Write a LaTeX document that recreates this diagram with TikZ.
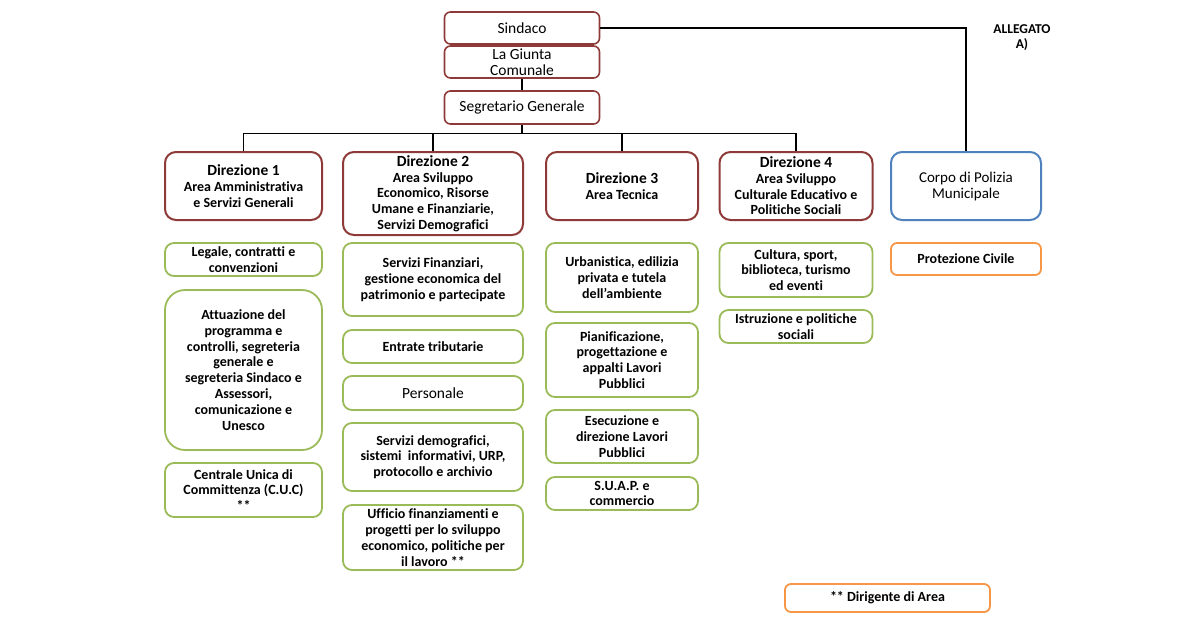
\documentclass[tikz,border=0pt]{standalone}
\usepackage{fontspec}
\setmainfont{Carlito}[Ligatures=CommonOff]
\usepackage{xcolor}

\definecolor{redline}{HTML}{8E3A38}
\definecolor{greenline}{HTML}{9BBB59}
\definecolor{blueline}{HTML}{4F81BD}
\definecolor{orangeline}{HTML}{F79646}

\newcommand{\dirtitle}[1]{{\fontsize{15.5}{16}\selectfont #1}}

\begin{document}
\begin{tikzpicture}[x=1pt,y=-1pt,
		topbox/.style={draw=redline, line width=1.6pt, rounded corners=6pt, align=center,
			minimum width=155, minimum height=32, inner sep=1pt, font=\fontsize{15.5}{16}\selectfont},
		dirbox/.style={draw=redline, line width=2pt, rounded corners=11pt, align=center,
			minimum height=68, inner sep=1pt, font=\fontsize{14}{15.7}\selectfont\bfseries},
		unitbox/.style={draw=greenline, line width=1.8pt, rounded corners=9pt, align=center,
			inner sep=1pt, font=\fontsize{14}{15.8}\selectfont\bfseries},
		polbox/.style={draw=blueline, line width=2pt, rounded corners=11pt, align=center,
			inner sep=1pt, font=\fontsize{15}{16}\selectfont},
		notebox/.style={draw=orangeline, line width=1.8pt, rounded corners=6pt, align=center,
			inner sep=1pt, font=\fontsize{14}{15.8}\selectfont\bfseries},
		link/.style={line width=1.2pt}]
	\useasboundingbox (0,0) rectangle (1200,630);
	
	% Vertici
	\node[topbox] (sindaco) at (522,28) {Sindaco};
	\node[topbox] (giunta) at (522,62) {La Giunta\\Comunale};
	\node[topbox, minimum height=33] (segretario) at (522,107.5) {Segretario Generale};
	
	% Allegato
	\node[font=\fontsize{13.5}{15}\selectfont\bfseries, align=center] (allegato) at (1022,38) {ALLEGATO\\A)};
	
	% Direzioni
	\node[dirbox, minimum width=157] (dir1) at (243.5,186)
		{\dirtitle{Direzione 1}\\Area Amministrativa\\e Servizi Generali};
	\node[dirbox, minimum width=180, minimum height=83] (dir2) at (433,193.5)
		{\dirtitle{Direzione 2}\\Area Sviluppo\\Economico, Risorse\\Umane e Finanziarie,\\Servizi Demografici};
	\node[dirbox, minimum width=152] (dir3) at (622,186)
		{\dirtitle{Direzione 3}\\Area Tecnica};
	\node[dirbox, minimum width=153] (dir4) at (796,186)
		{\dirtitle{Direzione 4}\\Area Sviluppo\\Culturale Educativo e\\Politiche Sociali};
	\node[polbox, minimum width=150, minimum height=68] (polizia) at (966,186) {Corpo di Polizia\\Municipale};
	
	% Direzione 1
	\node[unitbox, minimum width=157, minimum height=33] (legale) at (243.5,259.5) {Legale, contratti e\\convenzioni};
	\node[unitbox, minimum width=157, minimum height=160, rounded corners=20pt] (attuazione) at (243.5,370)
		{Attuazione del\\programma e\\controlli, segreteria\\generale e\\segreteria Sindaco e\\Assessori,\\comunicazione e\\Unesco};
	\node[unitbox, minimum width=157, minimum height=54] (cuc) at (243.5,490) {Centrale Unica di\\Committenza (C.U.C)\\**};
	
	% Direzione 2
	\node[unitbox, minimum width=180, minimum height=73] (finanziari) at (433,279.5)
		{Servizi Finanziari,\\gestione economica del\\patrimonio e partecipate};
	\node[unitbox, minimum width=180, minimum height=33] (entrate) at (433,346.5) {Entrate tributarie};
	\node[unitbox, minimum width=180, minimum height=34, font=\fontsize{15.5}{16}\selectfont] (personale) at (433,393) {Personale};
	\node[unitbox, minimum width=180, minimum height=68] (demografici) at (433,457)
		{Servizi demografici,\\sistemi\ \ informativi, URP,\\protocollo e archivio};
	\node[unitbox, minimum width=180, minimum height=65] (ufficio) at (433,537.5)
		{Ufficio finanziamenti e\\progetti per lo sviluppo\\economico, politiche per\\il lavoro **};
	
	% Direzione 3
	\node[unitbox, minimum width=152, minimum height=69] (urbanistica) at (622,277.5)
		{Urbanistica, edilizia\\privata e tutela\\dell’ambiente};
	\node[unitbox, minimum width=152, minimum height=74] (pianificazione) at (622,360)
		{Pianificazione,\\progettazione e\\appalti Lavori\\Pubblici};
	\node[unitbox, minimum width=152, minimum height=53] (esecuzione) at (622,436.5)
		{Esecuzione e\\direzione Lavori\\Pubblici};
	\node[unitbox, minimum width=152, minimum height=33] (suap) at (622,493.5) {S.U.A.P. e\\commercio};
	
	% Direzione 4
	\node[unitbox, minimum width=153, minimum height=54] (cultura) at (796,270)
		{Cultura, sport,\\biblioteca, turismo\\ed eventi};
	\node[unitbox, minimum width=153, minimum height=33] (istruzione) at (796,326.5) {Istruzione e politiche\\sociali};
	
	% Polizia
	\node[notebox, minimum width=150, minimum height=32] (protezione) at (966,259) {Protezione Civile};
	
	% Legenda
	\node[notebox, minimum width=205, minimum height=28] (legenda) at (887.5,598) {** Dirigente di Area};
	
	% Linee
	\draw[link] (giunta) -- (segretario);
	\draw[link] (segretario.south) -- ++(0,9) coordinate (bus);
	\draw[link] (dir1.north) |- (bus) -| (dir4.north);
	\draw[link] (dir2.north) -- (dir2.north |- bus);
	\draw[link] (dir3.north) -- (dir3.north |- bus);
	\draw[link] (sindaco.east) -| (polizia.north);
\end{tikzpicture}
\end{document}
